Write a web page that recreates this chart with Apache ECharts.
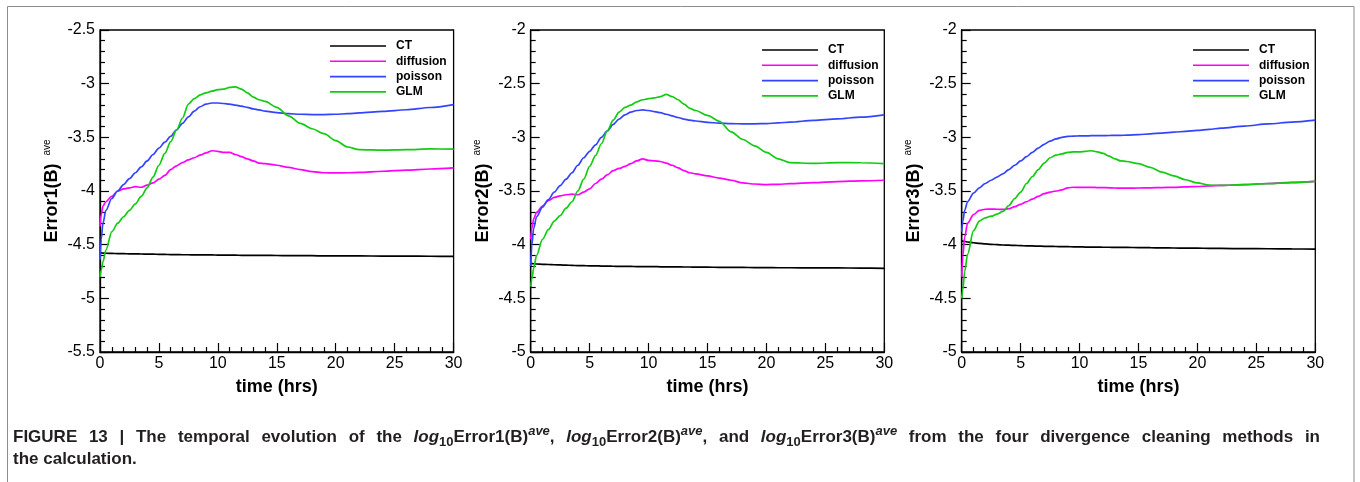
<!DOCTYPE html>
<html><head><meta charset="utf-8">
<script src="https://cdn.jsdelivr.net/npm/echarts@6/dist/echarts.min.js"></script>
<style>html,body{margin:0;padding:0;background:#fff}#c{width:1360px;height:482px}</style>
</head><body><div id="c"></div>
<script>
// shared time samples (hrs)
const time = [0, 0.1, 0.25, 0.5, 1, 1.5, 2, 2.5, 3, 3.5, 4, 4.5, 5, 5.5, 6, 6.5, 7, 7.5, 8, 8.5, 9, 9.5, 10, 10.5, 11, 11.5, 12, 12.5, 13, 13.5, 14, 15, 16, 17, 18, 19, 20, 21, 22, 24, 26, 28, 30];

const seriesNames = ['CT', 'diffusion', 'poisson', 'GLM'];
const xTicks = { min: 0, max: 30, interval: 5 };
const yRanges = [[-5.5, -2.5], [-5, -2], [-5, -2]];
const yNames = ['Error1(B)', 'Error2(B)', 'Error3(B)'];
const xName = 'time (hrs)';

// Panel 1: log10 Error1(B)^ave
const p1_CT = [-4.575,-4.577,-4.578,-4.580,-4.582,-4.583,-4.584,-4.585,-4.586,-4.587,-4.588,-4.589,-4.590,-4.591,-4.592,-4.593,-4.594,-4.594,-4.595,-4.595,-4.596,-4.596,-4.597,-4.597,-4.598,-4.598,-4.599,-4.599,-4.600,-4.600,-4.600,-4.601,-4.602,-4.602,-4.603,-4.604,-4.604,-4.605,-4.605,-4.606,-4.607,-4.608,-4.610];
const p1_diffusion = [-4.33,-4.22,-4.14,-4.10,-4.05,-4.00,-3.98,-3.97,-3.96,-3.965,-3.945,-3.925,-3.89,-3.855,-3.80,-3.765,-3.735,-3.71,-3.69,-3.665,-3.645,-3.625,-3.63,-3.64,-3.64,-3.66,-3.68,-3.70,-3.72,-3.74,-3.745,-3.76,-3.78,-3.80,-3.82,-3.83,-3.832,-3.83,-3.826,-3.816,-3.805,-3.795,-3.785];
const p1_poisson = [-4.64,-4.45,-4.30,-4.18,-4.07,-4.00,-3.94,-3.885,-3.83,-3.775,-3.72,-3.66,-3.60,-3.545,-3.49,-3.43,-3.37,-3.31,-3.255,-3.215,-3.19,-3.18,-3.18,-3.185,-3.19,-3.20,-3.21,-3.22,-3.235,-3.245,-3.255,-3.27,-3.28,-3.285,-3.288,-3.288,-3.285,-3.28,-3.272,-3.258,-3.243,-3.222,-3.195];
const p1_GLM = [-4.80,-4.74,-4.66,-4.55,-4.38,-4.30,-4.24,-4.18,-4.12,-4.05,-3.97,-3.87,-3.76,-3.65,-3.54,-3.43,-3.32,-3.19,-3.14,-3.105,-3.085,-3.07,-3.055,-3.05,-3.035,-3.03,-3.05,-3.085,-3.125,-3.15,-3.165,-3.22,-3.30,-3.37,-3.42,-3.465,-3.53,-3.59,-3.615,-3.62,-3.615,-3.608,-3.61];

// Panel 2: log10 Error2(B)^ave
const p2_CT = [-4.175,-4.177,-4.178,-4.180,-4.183,-4.185,-4.187,-4.189,-4.191,-4.193,-4.195,-4.196,-4.197,-4.198,-4.199,-4.200,-4.201,-4.202,-4.203,-4.203,-4.204,-4.204,-4.205,-4.205,-4.206,-4.206,-4.207,-4.207,-4.208,-4.208,-4.209,-4.210,-4.211,-4.212,-4.212,-4.213,-4.214,-4.215,-4.215,-4.216,-4.217,-4.218,-4.220];
const p2_diffusion = [-3.95,-3.85,-3.76,-3.70,-3.64,-3.59,-3.56,-3.545,-3.535,-3.53,-3.535,-3.51,-3.48,-3.43,-3.39,-3.35,-3.31,-3.29,-3.27,-3.245,-3.22,-3.20,-3.215,-3.22,-3.225,-3.24,-3.26,-3.285,-3.31,-3.33,-3.34,-3.36,-3.38,-3.40,-3.425,-3.435,-3.44,-3.438,-3.432,-3.422,-3.412,-3.405,-3.40];
const p2_poisson = [-4.20,-4.00,-3.85,-3.74,-3.65,-3.58,-3.51,-3.45,-3.39,-3.33,-3.26,-3.19,-3.13,-3.07,-3.00,-2.94,-2.88,-2.83,-2.79,-2.765,-2.75,-2.745,-2.75,-2.76,-2.77,-2.785,-2.80,-2.815,-2.83,-2.84,-2.848,-2.86,-2.868,-2.872,-2.875,-2.874,-2.872,-2.866,-2.858,-2.842,-2.828,-2.812,-2.79];
const p2_GLM = [-4.39,-4.32,-4.22,-4.10,-3.95,-3.86,-3.78,-3.73,-3.66,-3.60,-3.50,-3.39,-3.27,-3.17,-3.06,-2.94,-2.84,-2.765,-2.72,-2.70,-2.67,-2.65,-2.64,-2.632,-2.62,-2.60,-2.62,-2.65,-2.69,-2.73,-2.75,-2.795,-2.85,-2.95,-3.02,-3.08,-3.14,-3.20,-3.235,-3.243,-3.235,-3.237,-3.245];

// Panel 3: log10 Error3(B)^ave
const p3_CT = [-3.965,-3.967,-3.970,-3.975,-3.982,-3.988,-3.993,-3.997,-4.000,-4.003,-4.005,-4.007,-4.009,-4.011,-4.012,-4.014,-4.015,-4.016,-4.017,-4.018,-4.019,-4.020,-4.021,-4.022,-4.022,-4.023,-4.024,-4.024,-4.025,-4.026,-4.026,-4.027,-4.028,-4.030,-4.031,-4.032,-4.033,-4.034,-4.035,-4.037,-4.038,-4.040,-4.042];
const p3_diffusion = [-4.30,-4.10,-3.93,-3.80,-3.72,-3.68,-3.67,-3.668,-3.67,-3.672,-3.665,-3.645,-3.625,-3.60,-3.575,-3.55,-3.525,-3.51,-3.50,-3.49,-3.47,-3.465,-3.467,-3.466,-3.466,-3.468,-3.468,-3.47,-3.472,-3.474,-3.473,-3.472,-3.47,-3.468,-3.466,-3.462,-3.458,-3.453,-3.448,-3.44,-3.43,-3.42,-3.41];
const p3_poisson = [-3.88,-3.78,-3.68,-3.60,-3.52,-3.47,-3.43,-3.40,-3.37,-3.34,-3.30,-3.26,-3.22,-3.18,-3.14,-3.10,-3.065,-3.035,-3.015,-3.00,-2.992,-2.988,-2.987,-2.986,-2.985,-2.985,-2.984,-2.983,-2.982,-2.981,-2.98,-2.975,-2.968,-2.96,-2.952,-2.944,-2.935,-2.925,-2.915,-2.895,-2.875,-2.858,-2.84];
const p3_GLM = [-4.50,-4.42,-4.25,-4.09,-3.87,-3.78,-3.75,-3.735,-3.715,-3.69,-3.635,-3.57,-3.51,-3.43,-3.365,-3.30,-3.24,-3.19,-3.165,-3.155,-3.14,-3.135,-3.135,-3.13,-3.125,-3.135,-3.15,-3.175,-3.20,-3.22,-3.225,-3.245,-3.28,-3.325,-3.36,-3.395,-3.425,-3.445,-3.448,-3.44,-3.432,-3.422,-3.41];

// caption (justified first line): [style, text]; 'sp' = word gap
const captionLine1 = [
  ['b','FIGURE'],['sp'],['b','13'],['sp'],['b','|'],['sp'],['b','The'],['sp'],['b','temporal'],['sp'],['b','evolution'],['sp'],['b','of'],['sp'],['b','the'],['sp'],
  ['i','log'],['sub','10'],['b','Error1(B)'],['sup','ave'],['b',','],['sp'],
  ['i','log'],['sub','10'],['b','Error2(B)'],['sup','ave'],['b',','],['sp'],['b','and'],['sp'],
  ['i','log'],['sub','10'],['b','Error3(B)'],['sup','ave'],['sp'],
  ['b','from'],['sp'],['b','the'],['sp'],['b','four'],['sp'],['b','divergence'],['sp'],['b','cleaning'],['sp'],['b','methods'],['sp'],['b','in']
];
const captionLine2 = 'the calculation.';

const panels = [
  [p1_CT, p1_diffusion, p1_poisson, p1_GLM],
  [p2_CT, p2_diffusion, p2_poisson, p2_GLM],
  [p3_CT, p3_diffusion, p3_poisson, p3_GLM]
];

const colors = ['#000000', '#ff00ff', '#3344ff', '#11cc11'];
const FF = '"Liberation Sans", Arial, Helvetica, sans-serif';

const gridLefts = [100, 530.7, 961.7];
const gridW = 353.6, gridTop = 30, gridH = 322;
const legendPos = [[330, 39], [762, 43], [1193, 43]];

const grids = [], xAxes = [], yAxes = [], series = [], legends = [];
for (let i = 0; i < 3; i++) {
  grids.push({ left: gridLefts[i], top: gridTop, width: gridW, height: gridH, show: true,
    borderColor: '#000', borderWidth: 1.3, backgroundColor: 'transparent' });
  xAxes.push({ type: 'value', gridIndex: i, min: xTicks.min, max: xTicks.max, interval: xTicks.interval,
    name: xName, nameLocation: 'middle', nameGap: 26,
    nameTextStyle: { fontFamily: FF, fontSize: 18, fontWeight: 'bold', color: '#000' },
    axisLine: { show: true, onZero: false, lineStyle: { color: '#000', width: 1.3 } },
    axisTick: { show: true, inside: true, length: 9, lineStyle: { color: '#000', width: 1.2 } },
    minorTick: { show: true, splitNumber: 5, length: 5, lineStyle: { color: '#000', width: 1.2 } },
    splitLine: { show: false },
    axisLabel: { fontFamily: FF, fontSize: 16, color: '#000', margin: 4, showMinLabel: true, showMaxLabel: true }
  });
  yAxes.push({ type: 'value', gridIndex: i, min: yRanges[i][0], max: yRanges[i][1], interval: 0.5,
    name: '{a|' + yNames[i] + '}{s|ave}', nameLocation: 'middle', nameRotate: 90, nameGap: 38,
    nameTextStyle: { rich: {
      a: { fontFamily: FF, fontSize: 18, fontWeight: 'bold', color: '#000', lineHeight: 20 },
      s: { fontFamily: FF, fontSize: 10, color: '#000', lineHeight: 10, verticalAlign: 'top', padding: [0, 0, 0, 8] }
    } },
    axisLine: { show: true, onZero: false, lineStyle: { color: '#000', width: 1.3 } },
    axisTick: { show: true, inside: true, length: 9, lineStyle: { color: '#000', width: 1.2 } },
    minorTick: { show: true, splitNumber: 5, length: 5, lineStyle: { color: '#000', width: 1.2 } },
    splitLine: { show: false },
    axisLabel: { fontFamily: FF, fontSize: 16, color: '#000', margin: 5, showMinLabel: true, showMaxLabel: true }
  });
  for (let s = 0; s < 4; s++) {
    const vals = panels[i][s];
    series.push({ type: 'line', name: seriesNames[s], xAxisIndex: i, yAxisIndex: i,
      data: time.map((t, k) => [t, vals[k]]), symbol: 'none', showSymbol: false,
      smooth: 0.3, smoothMonotone: 'x', clip: true,
      lineStyle: { color: colors[s], width: 1.7 }, itemStyle: { color: colors[s] },
      z: 3 + s });
  }
  legends.push({ data: seriesNames, orient: 'vertical', left: legendPos[i][0], top: legendPos[i][1],
    padding: 0, icon: 'rect', itemWidth: 56, itemHeight: 1.6, itemGap: 1.3, selectedMode: false,
    textStyle: { fontFamily: FF, fontSize: 12, fontWeight: 'bold', color: '#000', lineHeight: 14, padding: [0, 0, 0, 5] } });
}

// caption styles
const capFill = '#231f20';
const BS = 17, SS = 13;
const capRich = {
  b: { fontFamily: FF, fontSize: BS, fontWeight: 'bold', fill: capFill, lineHeight: 24 },
  i: { fontFamily: FF, fontSize: BS, fontWeight: 'bold', fontStyle: 'italic', fill: capFill, lineHeight: 24 },
  sub: { fontFamily: FF, fontSize: SS, fontWeight: 'bold', fill: capFill, lineHeight: 11, verticalAlign: 'bottom' },
  sup: { fontFamily: FF, fontSize: SS, fontWeight: 'bold', fontStyle: 'italic', fill: capFill, lineHeight: 13, verticalAlign: 'top' },
  sp: { fontFamily: FF, fontSize: BS, fontWeight: 'bold', fill: capFill, lineHeight: 24 }
};
const capFont = {
  b: 'bold ' + BS + 'px ' + FF, i: 'italic bold ' + BS + 'px ' + FF,
  sub: 'bold ' + SS + 'px ' + FF, sup: 'italic bold ' + SS + 'px ' + FF, sp: 'bold ' + BS + 'px ' + FF
};
const capLeft = 13, capRight = 1320;
const mctx = document.createElement('canvas').getContext('2d');
let natural = 0, nSp = 0;
captionLine1.forEach(([st, tx]) => {
  mctx.font = capFont[st];
  if (st === 'sp') { nSp++; natural += mctx.measureText(' ').width; }
  else natural += mctx.measureText(tx).width;
});
mctx.font = capFont.sp;
capRich.sp.width = Math.max(mctx.measureText(' ').width, mctx.measureText(' ').width + (capRight - capLeft - natural) / nSp);
const line1 = captionLine1.map(([st, tx]) => '{' + st + '|' + (st === 'sp' ? ' ' : tx) + '}').join('');
const line2 = '{b|' + captionLine2 + '}';

const chart = echarts.init(document.getElementById('c'), null, { renderer: 'canvas' });
chart.setOption({
  animation: false,
  backgroundColor: '#fff',
  grid: grids, xAxis: xAxes, yAxis: yAxes, series: series, legend: legends,
  graphic: [
    { type: 'rect', shape: { x: 7.5, y: 6.5, width: 1346.5, height: 520 },
      style: { fill: 'none', stroke: '#8c8c8c', lineWidth: 1 }, silent: true },
    { type: 'text', left: capLeft, top: 425, style: { text: line1, rich: capRich } },
    { type: 'text', left: capLeft, top: 451, style: { text: line2, rich: capRich } }
  ]
});
</script>
</body></html>
